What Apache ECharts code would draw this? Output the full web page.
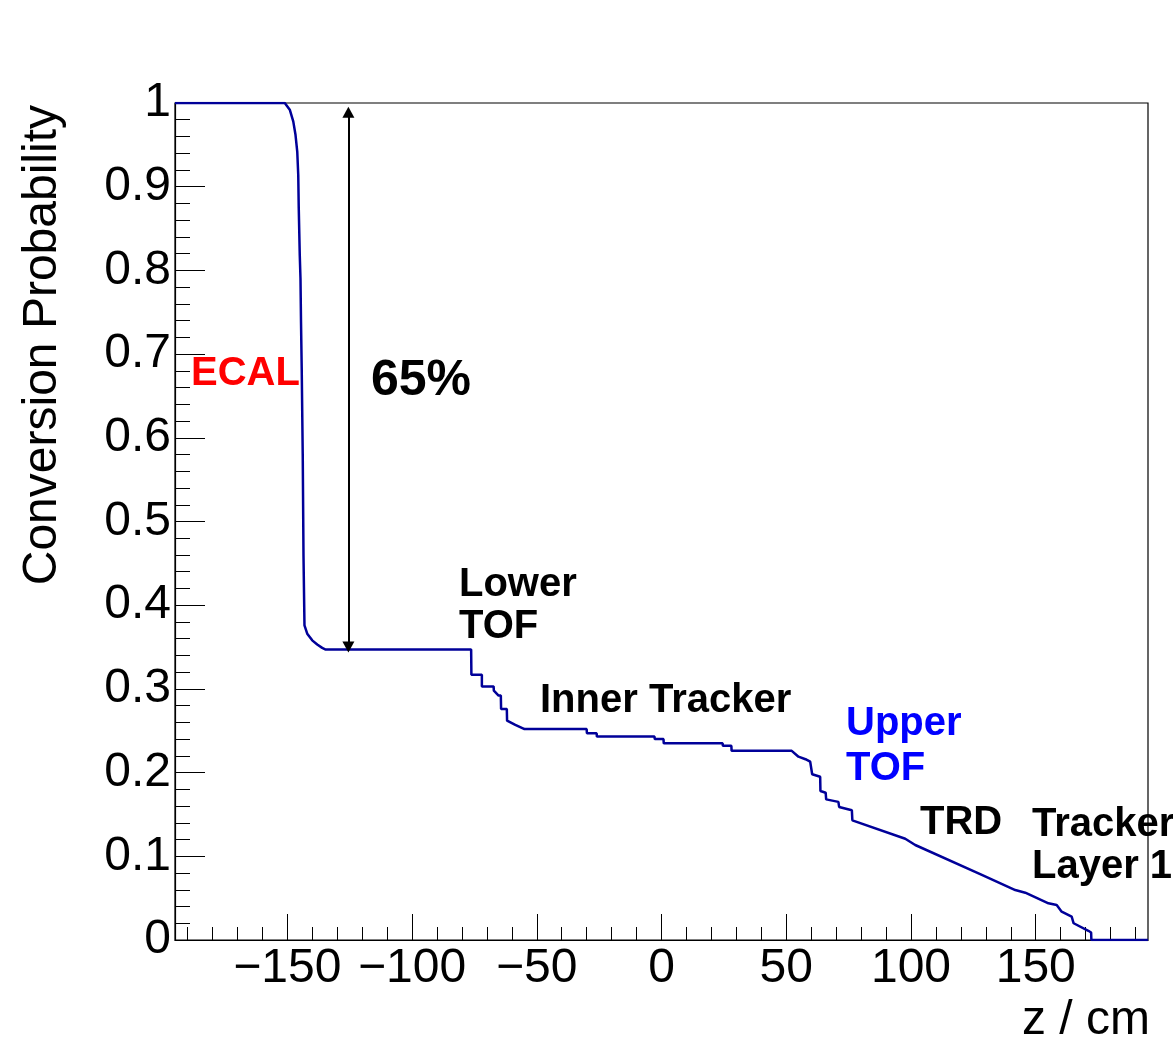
<!DOCTYPE html>
<html>
<head>
<meta charset="utf-8">
<script src="https://cdn.jsdelivr.net/npm/echarts@6/dist/echarts.min.js"></script>
<style>html,body{margin:0;padding:0;background:#fff;}#c{width:1173px;height:1046px;}</style>
</head>
<body>
<div id="c"></div>
<script>
// z positions (cm) of the curve vertices
const zValues = [-195, -151, -149, -147.6, -146.7, -146, -145.6, -145.4, -145, -144.7, -144.5, -144.2, -143.8, -143.5, -143.1,
  -142, -140, -138, -136, -134.6, -76.3, -76.2, -72, -72, -67.3, -67.2, -65.3, -64.4, -64.3, -62, -61.9, -58.6, -54.9,
  -30, -29.9, -26, -25.9, -2.8, -2.7, 0.8, 0.9, 24.5, 24.6, 28, 28.1, 52.2, 54.9, 57.7, 59.6, 60.3, 60.4, 63.6, 63.7,
  65.8, 66, 70.9, 71.2, 76.3, 76.5, 97.7, 101.7, 128.4, 141.8, 145.8, 155.1, 158.4, 160.4, 164.4, 165.2, 171.1, 172.2, 172.3, 195];
// conversion probability at those positions
const probValues = [1, 1, 0.992, 0.978, 0.962, 0.942, 0.914, 0.875, 0.819, 0.79, 0.74, 0.68, 0.58, 0.46, 0.376,
  0.366, 0.358, 0.353, 0.349, 0.347, 0.347, 0.317, 0.317, 0.303, 0.303, 0.298, 0.292, 0.292, 0.276, 0.276, 0.262, 0.257, 0.252,
  0.252, 0.247, 0.247, 0.243, 0.243, 0.240, 0.240, 0.235, 0.235, 0.232, 0.232, 0.226, 0.226, 0.219, 0.216, 0.213, 0.211, 0.198, 0.195, 0.178,
  0.176, 0.168, 0.165, 0.159, 0.155, 0.143, 0.121, 0.1135, 0.0777, 0.0597, 0.0565, 0.0438, 0.0418, 0.0338, 0.0278, 0.02, 0.011, 0.009, 0, 0];

const xMajorTicks = [-150, -100, -50, 0, 50, 100, 150];
const xMinorTicks = [-190, -180, -170, -160, -140, -130, -120, -110, -90, -80, -70, -60, -40, -30, -20, -10,
  10, 20, 30, 40, 60, 70, 80, 90, 110, 120, 130, 140, 160, 170, 180, 190];
const arrowZ = -125.5;
const arrowRange = [0.989, 0.350];

const FONT = 'Liberation Sans';
const chart = echarts.init(document.getElementById('c'), null, {renderer: 'canvas'});
const curve = zValues.map((z, i) => [z, probValues[i]]);

chart.setOption({
  animation: false,
  backgroundColor: '#fff',
  grid: {left: 175, right: 25, top: 103, bottom: 106, show: true, borderColor: '#000', borderWidth: 1.2, backgroundColor: 'transparent'},
  xAxis: [{
    type: 'value', min: -195, max: 195, position: 'bottom',
    axisLine: {show: true, onZero: false, lineStyle: {color: '#000', width: 1.2}},
    axisTick: {show: true, inside: true, length: 26, customValues: xMajorTicks, lineStyle: {color: '#000', width: 1}},
    axisLabel: {show: true, customValues: xMajorTicks, margin: 5, fontSize: 48, fontFamily: FONT, color: '#000',
      formatter: v => (v < 0 ? '\u2212' + Math.abs(v) : String(v))},
    splitLine: {show: false}
  }, {
    type: 'value', min: -195, max: 195, position: 'bottom',
    axisLine: {show: false, onZero: false},
    axisTick: {show: true, inside: true, length: 13, customValues: xMinorTicks, lineStyle: {color: '#000', width: 1}},
    axisLabel: {show: false},
    splitLine: {show: false}
  }],
  yAxis: {
    type: 'value', min: 0, max: 1, interval: 0.1,
    axisLine: {show: true, onZero: false, lineStyle: {color: '#000', width: 1.2}},
    axisTick: {show: true, inside: true, length: 30, lineStyle: {color: '#000', width: 1}},
    minorTick: {show: true, splitNumber: 5, length: 15, lineStyle: {color: '#000', width: 1}},
    axisLabel: {margin: 4, fontSize: 48, fontFamily: FONT, color: '#000'},
    splitLine: {show: false}
  },
  series: [{
    type: 'line', data: curve, showSymbol: false, symbol: 'none',
    lineStyle: {color: '#000099', width: 2.5}, itemStyle: {color: '#000099'},
    xAxisIndex: 0, yAxisIndex: 0,
    markLine: {
      silent: true, symbol: ['triangle', 'triangle'], symbolSize: [12, 11],
      lineStyle: {color: '#000', width: 2, type: 'solid'},
      label: {show: false},
      data: [[{coord: [arrowZ, arrowRange[0]]}, {coord: [arrowZ, arrowRange[1]]}]]
    }
  }],
  graphic: [
    {type: 'text', x: 43, y: 105, rotation: Math.PI / 2,
      style: {text: 'Conversion Probability', font: '48px "Liberation Sans"', fill: '#000', textAlign: 'right', textVerticalAlign: 'middle'}},
    {type: 'text', x: 1150, y: 1021,
      style: {text: 'z / cm', font: '48px "Liberation Sans"', fill: '#000', textAlign: 'right', textVerticalAlign: 'middle'}},
    {type: 'text', x: 191, y: 374,
      style: {text: 'ECAL', font: 'bold 40px "Liberation Sans"', fill: '#ff0000', textAlign: 'left', textVerticalAlign: 'middle'}},
    {type: 'text', x: 371, y: 381,
      style: {text: '65%', font: 'bold 50px "Liberation Sans"', fill: '#000', textAlign: 'left', textVerticalAlign: 'middle'}},
    {type: 'text', x: 459, y: 585,
      style: {text: 'Lower', font: 'bold 40px "Liberation Sans"', fill: '#000', textAlign: 'left', textVerticalAlign: 'middle'}},
    {type: 'text', x: 459, y: 627,
      style: {text: 'TOF', font: 'bold 40px "Liberation Sans"', fill: '#000', textAlign: 'left', textVerticalAlign: 'middle'}},
    {type: 'text', x: 540, y: 701,
      style: {text: 'Inner Tracker', font: 'bold 40px "Liberation Sans"', fill: '#000', textAlign: 'left', textVerticalAlign: 'middle'}},
    {type: 'text', x: 846, y: 724,
      style: {text: 'Upper', font: 'bold 40px "Liberation Sans"', fill: '#0000ff', textAlign: 'left', textVerticalAlign: 'middle'}},
    {type: 'text', x: 846, y: 769,
      style: {text: 'TOF', font: 'bold 40px "Liberation Sans"', fill: '#0000ff', textAlign: 'left', textVerticalAlign: 'middle'}},
    {type: 'text', x: 920, y: 823,
      style: {text: 'TRD', font: 'bold 40px "Liberation Sans"', fill: '#000', textAlign: 'left', textVerticalAlign: 'middle'}},
    {type: 'text', x: 1032, y: 825,
      style: {text: 'Tracker', font: 'bold 40px "Liberation Sans"', fill: '#000', textAlign: 'left', textVerticalAlign: 'middle'}},
    {type: 'text', x: 1032, y: 867,
      style: {text: 'Layer 1', font: 'bold 40px "Liberation Sans"', fill: '#000', textAlign: 'left', textVerticalAlign: 'middle'}}
  ]
});
</script>
</body>
</html>
